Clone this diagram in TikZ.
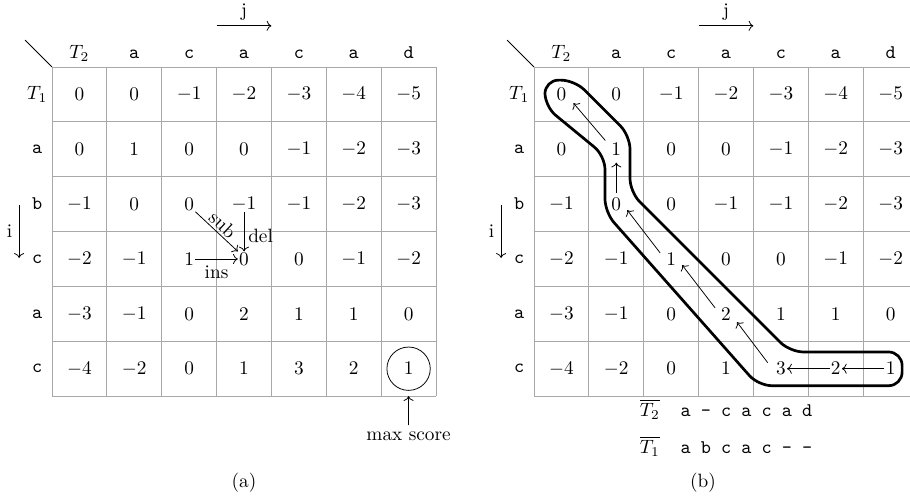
\documentclass[tikz,border=0pt]{standalone}
\usepackage{amsmath,amssymb}
\usepackage{tikz}
\usetikzlibrary{arrows.meta,positioning,calc}
\definecolor{dpGrid}{HTML}{A8A8A8}

\begin{document}
\begin{tikzpicture}[
  cell/.style={inner sep=0.5pt},
  hdr/.style={anchor=base},
  trace/.style={->},
  gridline/.style={draw=dpGrid,line width=0.5pt}]
\useasboundingbox (-0.948,-7.856) rectangle (15.64,1.221);
% both score tables
\foreach \g/\x in {a/0,b/8.786}{
\begin{scope}[xshift=\x cm]
  \draw[gridline] (0,-6) grid (7,0);
  \draw (-0.49,0.49) -- (0,0);
  \foreach \h [count=\c from 0] in {$T_2$,\texttt{a},\texttt{c},\texttt{a},\texttt{c},\texttt{a},\texttt{d}}
    \node[hdr] (\g-h\c) at (\c+0.5,0.15) {\h};
  \foreach \h [count=\r from 0] in {$T_1$,\texttt{a},\texttt{b},\texttt{c},\texttt{a},\texttt{c}}
    \node (\g-r\r) at (-0.27,-\r-0.5) {\h};
  \foreach \row [count=\r from 0] in {{0,0,-1,-2,-3,-4,-5},{0,1,0,0,-1,-2,-3},
      {-1,0,0,-1,-1,-2,-3},{-2,-1,1,0,0,-1,-2},{-3,-1,0,2,1,1,0},{-4,-2,0,1,3,2,1}}
    \foreach \v [count=\c from 0] in \row
      \node[cell] (\g-\r-\c) at (\c+0.5,-\r-0.5) {$\v$};
  \coordinate (\g-j0) at (3,0.75);
  \coordinate (\g-j1) at (4,0.75);
  \draw[->] (\g-j0) -- node[above,inner sep=2.5pt] (\g-jlbl) {j} (\g-j1);
  \coordinate (\g-i0) at (-0.6,-2.52);
  \coordinate (\g-i1) at (-0.6,-3.48);
  \draw[->] (\g-i0) -- node[left] (\g-ilbl) {i} (\g-i1);
\end{scope}}

% (a): recurrence and best score
\draw[->] (a-2-2.south east) -- node[sloped,above,inner sep=1pt] (a-sub) {sub} (a-3-3.north west);
\draw[->] (a-2-3.south) -- node[right,pos=0.6,inner sep=2pt] (a-del) {del} (a-3-3.north);
\draw[->] (a-3-2.east) -- node[below] (a-ins) {ins} (a-3-3.west);
\node[circle,draw,minimum size=0.79cm,inner sep=0pt] (a-best) at (a-5-6) {};
\coordinate (a-bot) at (6.5,-6);
\node (a-maxlbl) at (6.5,-6.74) {max score};
\draw[->] (a-maxlbl) -- (a-bot);
\node[anchor=base] (a-cap) at (3.5,-7.67) {(a)};

% (b): traceback
\draw[trace] (b-5-6.west) -- (b-5-5.east);
\draw[trace] (b-5-5.west) -- (b-5-4.east);
\draw[trace] ([shift={(-0.24,0.11)}]b-5-4.center) -- ([shift={(0.2,-0.15)}]b-4-3.center);
\draw[trace] ([shift={(-0.2,0.11)}]b-4-3.center) -- ([shift={(0.2,-0.11)}]b-3-2.center);
\draw[trace] ([shift={(-0.2,0.11)}]b-3-2.center) -- ([shift={(0.2,-0.11)}]b-2-1.center);
\draw[trace] ([yshift=2pt]b-2-1.north) -- ([yshift=-3pt]b-1-1.south);
\draw[trace] ([shift={(-0.2,0.16)}]b-1-1.center) -- ([shift={(0.22,-0.16)}]b-0-0.center);

\begin{scope}[xshift=8.786cm]
  \draw[line width=1.4pt,rounded corners=7pt] (5.4,-5.81) -- (4.09,-5.81) -- (1.294,-2.65)
    -- (1.294,-1.62) -- (0.2,-0.72) -- (0.2,-0.24) -- (0.74,-0.24) -- (1.75,-1.25)
    -- (1.75,-2.28) -- (4.665,-5.195) -- (6.71,-5.195) -- (6.71,-5.81) -- (5.4,-5.81);
  \node[anchor=base] (b-t2bar) at (2.11,-6.37) {$\overline{T_2}$};
  \node[anchor=base west] (b-t2seq) at (2.55,-6.37) {\texttt{a - c a c a d}};
  \node[anchor=base] (b-t1bar) at (2.11,-7.04) {$\overline{T_1}$};
  \node[anchor=base west] (b-t1seq) at (2.55,-7.04) {\texttt{a b c a c - -}};
  \node[anchor=base] (b-cap) at (3.08,-7.67) {(b)};
\end{scope}
\end{tikzpicture}
\end{document}
